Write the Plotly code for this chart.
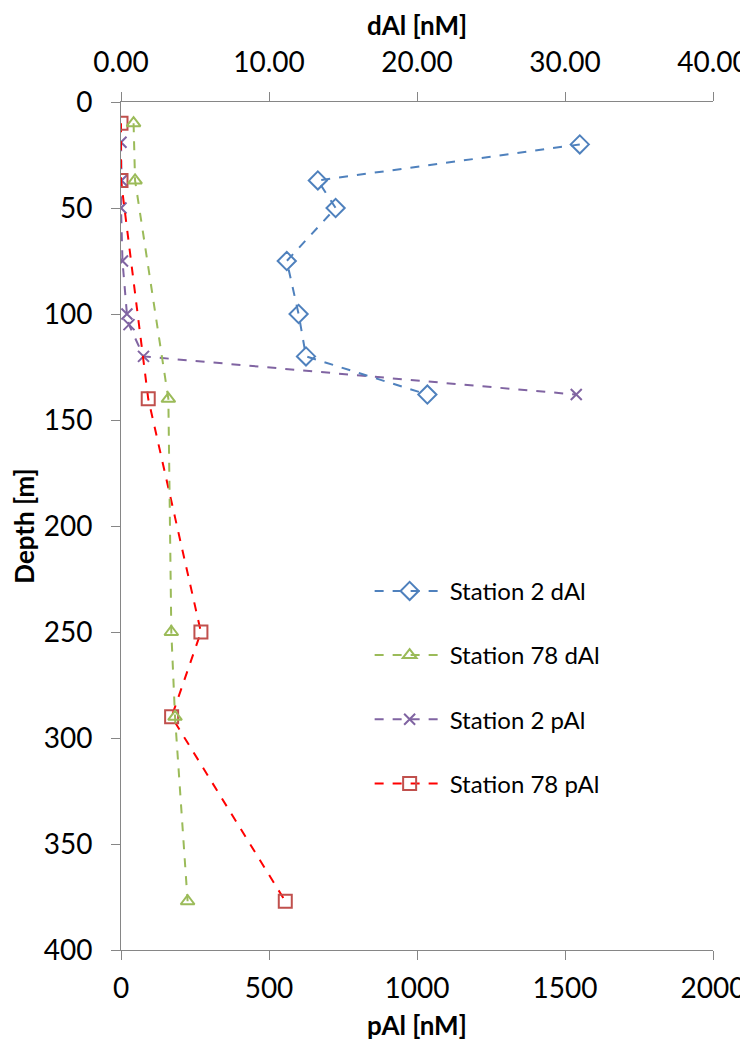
import plotly.graph_objects as go

# Station 2 dAl (top axis, nM)
st2_dal_depth = [20, 37, 50, 75, 100, 120, 138]
st2_dal = [31.0, 13.3, 14.5, 11.2, 12.0, 12.5, 20.7]

# Station 78 dAl (top axis, nM)
st78_dal_depth = [10, 37, 140, 250, 290, 377]
st78_dal = [0.85, 0.95, 3.2, 3.4, 3.65, 4.5]

# Station 2 pAl (bottom axis, nM)
st2_pal_depth = [19, 37, 50, 75, 100, 105, 120, 138]
st2_pal = [0, 2, 0, 5, 20, 27, 76, 1538]

# Station 78 pAl (bottom axis, nM)
st78_pal_depth = [10, 37, 140, 250, 290, 377]
st78_pal = [0, 0, 92, 270, 171, 555]

FONT = "Lato"
AXIS_COLOR = "#868686"

fig = go.Figure()

fig.add_trace(go.Scatter(
    x=st2_dal, y=st2_dal_depth, xaxis="x2", yaxis="y", name="Station 2 dAl",
    mode="lines+markers", legendgroup="a",
    line=dict(color="#4F81BD", width=2, dash="dash"),
    marker=dict(symbol="diamond-open", size=14, color="#4F81BD", line=dict(width=2, color="#4F81BD")),
))
fig.add_trace(go.Scatter(
    x=st78_dal, y=st78_dal_depth, xaxis="x2", yaxis="y", name="Station 78 dAl",
    mode="lines+markers", legendgroup="b",
    line=dict(color="#9BBB59", width=2, dash="dash"),
    marker=dict(symbol="triangle-up-open", size=12, color="#9BBB59", line=dict(width=2, color="#9BBB59")),
))
fig.add_trace(go.Scatter(
    x=st2_pal, y=st2_pal_depth, xaxis="x", yaxis="y", name="Station 2 pAl",
    mode="lines+markers", legendgroup="c",
    line=dict(color="#8064A2", width=2, dash="dash"),
    marker=dict(symbol="x-thin-open", size=11, color="#8064A2", line=dict(width=2, color="#8064A2")),
))
fig.add_trace(go.Scatter(
    x=st78_pal, y=st78_pal_depth, xaxis="x", yaxis="y", name="Station 78 pAl",
    mode="lines+markers", legendgroup="d",
    line=dict(color="#FF0000", width=2, dash="dash"),
    marker=dict(symbol="square-open", size=13, color="#C0504D", line=dict(width=2, color="#C0504D")),
))

tickfont = dict(family=FONT, size=28, color="#000000")
titlefont = dict(family=FONT, size=26, color="#000000", weight="bold")

fig.update_layout(
    width=740, height=1032,
    margin=dict(l=113, r=35, t=94, b=90, autoexpand=False),
    paper_bgcolor="white", plot_bgcolor="white",
    font=dict(family=FONT, size=26, color="#000000"),
    xaxis=dict(
        range=[0, 2000], dtick=500, tick0=0, side="bottom", anchor="y", automargin=False,
        showgrid=False, zeroline=False, showline=True, linecolor=AXIS_COLOR, linewidth=1,
        ticks="outside", ticklen=9, tickcolor=AXIS_COLOR, tickfont=tickfont,
        ticklabelstandoff=4, ticklabeloverflow="allow",
    ),
    xaxis2=dict(
        range=[0, 40], dtick=10, tick0=0, side="top", overlaying="x", anchor="y", automargin=False,
        tickformat=".2f",
        showgrid=False, zeroline=False, showline=True, linecolor=AXIS_COLOR, linewidth=1,
        ticks="outside", ticklen=9, tickcolor=AXIS_COLOR, tickfont=tickfont,
        ticklabelstandoff=9, ticklabeloverflow="allow",
    ),
    yaxis=dict(
        range=[400, 0], dtick=50, tick0=0, automargin=False,
        showgrid=False, zeroline=False, showline=True, linecolor=AXIS_COLOR, linewidth=1,
        ticks="outside", ticklen=9, tickcolor=AXIS_COLOR, tickfont=tickfont,
        ticklabelstandoff=13, ticklabeloverflow="allow",
        title=dict(text="Depth [m]", font=titlefont, standoff=6),
    ),
    legend=dict(
        x=0.42, y=0.4495, xanchor="left", yanchor="top",
        bgcolor="rgba(0,0,0,0)", font=dict(family=FONT, size=24, color="#000000"),
        tracegroupgap=30, itemwidth=70,
    ),
    annotations=[
        dict(text="dAl [nM]", xref="paper", yref="paper", x=0.5, y=1.0908,
             xanchor="center", yanchor="middle", showarrow=False, font=titlefont),
        dict(text="pAl [nM]", xref="paper", yref="paper", x=0.5, y=-0.0884,
             xanchor="center", yanchor="middle", showarrow=False, font=titlefont),
    ],
)

fig.write_html("out.html")
